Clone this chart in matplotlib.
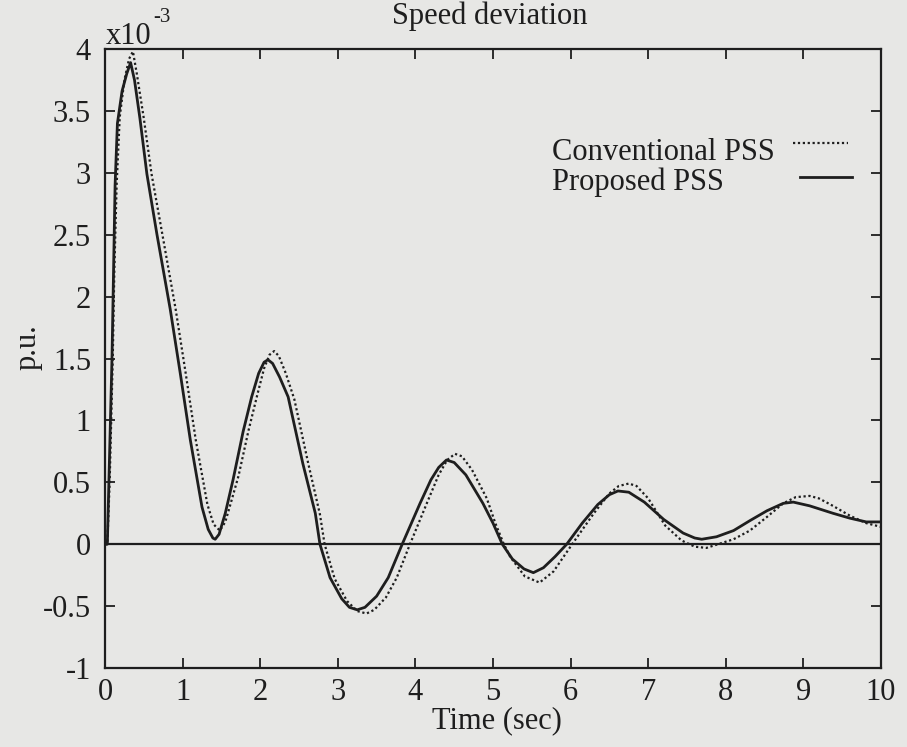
import numpy as np
import matplotlib
matplotlib.use("Agg")
from matplotlib import pyplot as plt

plt.rcParams['font.family'] = ['Liberation Serif', 'DejaVu Serif']
plt.rcParams['axes.unicode_minus'] = False

# speed deviation, units of 1e-3 p.u.
t_conv = [0, 0.03, 0.06, 0.08, 0.10, 0.12, 0.15, 0.19, 0.25, 0.31, 0.36, 0.41, 0.50, 0.60,
          0.74, 0.91, 1.04, 1.17, 1.32, 1.40, 1.48, 1.55, 1.62, 1.72, 1.85, 1.96, 2.05, 2.12,
          2.18, 2.24, 2.33, 2.44, 2.62, 2.77, 2.83, 2.96, 3.12, 3.25, 3.37, 3.47, 3.62, 3.76,
          3.93, 4.16, 4.30, 4.41, 4.51, 4.60, 4.73, 4.92, 5.03, 5.14, 5.22, 5.41, 5.60, 5.78,
          6.02, 6.30, 6.50, 6.62, 6.75, 6.85, 7.00, 7.22, 7.43, 7.60, 7.75, 7.90, 8.10, 8.31,
          8.53, 8.74, 8.90, 9.08, 9.20, 9.38, 9.60, 9.81, 10.0]
v_conv = [0, 0, 0.5, 1.0, 1.5, 2.2, 2.9, 3.45, 3.75, 3.92, 3.98, 3.80, 3.44, 2.99,
          2.50, 1.90, 1.38, 0.84, 0.32, 0.16, 0.11, 0.18, 0.33, 0.55, 0.92, 1.20, 1.42, 1.53,
          1.56, 1.52, 1.38, 1.17, 0.65, 0.24, 0.0, -0.28, -0.46, -0.54, -0.56, -0.53, -0.43, -0.27,
          0.0, 0.35, 0.56, 0.68, 0.73, 0.71, 0.60, 0.37, 0.17, 0.0, -0.10, -0.26, -0.31, -0.22,
          0.0, 0.25, 0.41, 0.47, 0.49, 0.47, 0.37, 0.15, 0.03, -0.02, -0.03, 0.0, 0.04, 0.11,
          0.22, 0.33, 0.38, 0.39, 0.37, 0.31, 0.23, 0.17, 0.14]

t_prop = [0, 0.03, 0.05, 0.07, 0.09, 0.11, 0.13, 0.16, 0.22, 0.28, 0.33, 0.38, 0.45, 0.54,
          0.67, 0.84, 0.97, 1.10, 1.25, 1.33, 1.39, 1.42, 1.47, 1.55, 1.65, 1.78, 1.89, 1.98,
          2.05, 2.10, 2.16, 2.25, 2.36, 2.55, 2.71, 2.77, 2.90, 3.05, 3.15, 3.25, 3.35, 3.50,
          3.65, 3.83, 4.06, 4.20, 4.30, 4.40, 4.50, 4.65, 4.87, 5.00, 5.12, 5.25, 5.40, 5.52,
          5.65, 5.80, 5.95, 6.15, 6.35, 6.50, 6.61, 6.75, 6.95, 7.20, 7.45, 7.60, 7.69, 7.88,
          8.10, 8.31, 8.53, 8.74, 8.87, 9.08, 9.38, 9.60, 9.81, 10.0]
v_prop = [0, 0, 0.5, 1.0, 1.5, 2.2, 2.9, 3.4, 3.66, 3.80, 3.89, 3.75, 3.44, 2.99,
          2.50, 1.90, 1.38, 0.84, 0.30, 0.12, 0.05, 0.04, 0.08, 0.25, 0.52, 0.91, 1.19, 1.38,
          1.47, 1.49, 1.46, 1.35, 1.19, 0.65, 0.25, 0.0, -0.27, -0.44, -0.51, -0.53, -0.51, -0.42,
          -0.27, 0.0, 0.33, 0.52, 0.62, 0.68, 0.66, 0.56, 0.33, 0.17, 0.0, -0.12, -0.20, -0.23,
          -0.19, -0.10, 0.0, 0.17, 0.32, 0.40, 0.43, 0.42, 0.34, 0.20, 0.09, 0.05, 0.04, 0.06,
          0.11, 0.19, 0.27, 0.33, 0.34, 0.31, 0.25, 0.21, 0.18, 0.18]

yticks = [-1, -0.5, 0, 0.5, 1, 1.5, 2, 2.5, 3, 3.5, 4]
ytick_labels = ['-1', '-0.5', '0', '0.5', '1', '1.5', '2', '2.5', '3', '3.5', '4']
xticks = list(range(0, 11))
series_names = ['Conventional PSS', 'Proposed PSS']

bg = '#e7e7e5'
ink = '#1e1e1e'
dotted = (0, (1, 1.2))

fig = plt.figure(figsize=(9.07, 7.47), dpi=100, facecolor=bg)
ax = fig.add_axes([105 / 907, 1 - 668 / 747, 776 / 907, 619 / 747])
ax.set_facecolor(bg)

ax.plot(t_conv, v_conv, linestyle=dotted, color=ink, linewidth=1.6)
ax.plot(t_prop, v_prop, linestyle='-', color=ink, linewidth=2.0)
ax.axhline(0, color=ink, linewidth=1.6)

ax.set_xlim(0, 10)
ax.set_ylim(-1, 4)
ax.set_xticks(xticks)
ax.set_yticks(yticks)
ax.set_yticklabels(ytick_labels)
ax.tick_params(direction='in', length=7, width=1.3, top=True, right=True,
               labelsize=22, colors=ink)
ax.tick_params(axis='x', pad=7)
ax.tick_params(axis='y', pad=10)
for s in ax.spines.values():
    s.set_linewidth(1.6)
    s.set_color(ink)

# texts placed like the gnuplot output
fig.text(497 / 907, 1 - 721 / 747, 'Time (sec)', ha='center', va='center', fontsize=22, color=ink)
fig.text(28 / 907, 1 - 347 / 747, 'p.u.', ha='center', va='center', rotation=90, fontsize=22, color=ink)
fig.text(490 / 907, 1 - 16 / 747, 'Speed deviation', ha='center', va='center', fontsize=22, color=ink)
fig.text(106 / 907, 1 - 36 / 747, 'x10', ha='left', va='center', fontsize=22, color=ink)
fig.text(153 / 907, 1 - 18 / 747, '-3', ha='left', va='center', fontsize=15, color=ink)

# key: text left aligned, sample to the right
ax.text(0.576, 0.8336, series_names[0], transform=ax.transAxes, ha='left', va='center',
        fontsize=22, color=ink)
ax.text(0.576, 0.7851, series_names[1], transform=ax.transAxes, ha='left', va='center',
        fontsize=22, color=ink)
ax.plot([0.8860, 0.9575], [0.8480, 0.8480], transform=ax.transAxes, linestyle=dotted,
        color=ink, linewidth=1.6)
ax.plot([0.8956, 0.9626], [0.7932, 0.7932], transform=ax.transAxes, linestyle='-',
        color=ink, linewidth=2.0)

fig.savefig('out.png', dpi=100, facecolor=bg)
